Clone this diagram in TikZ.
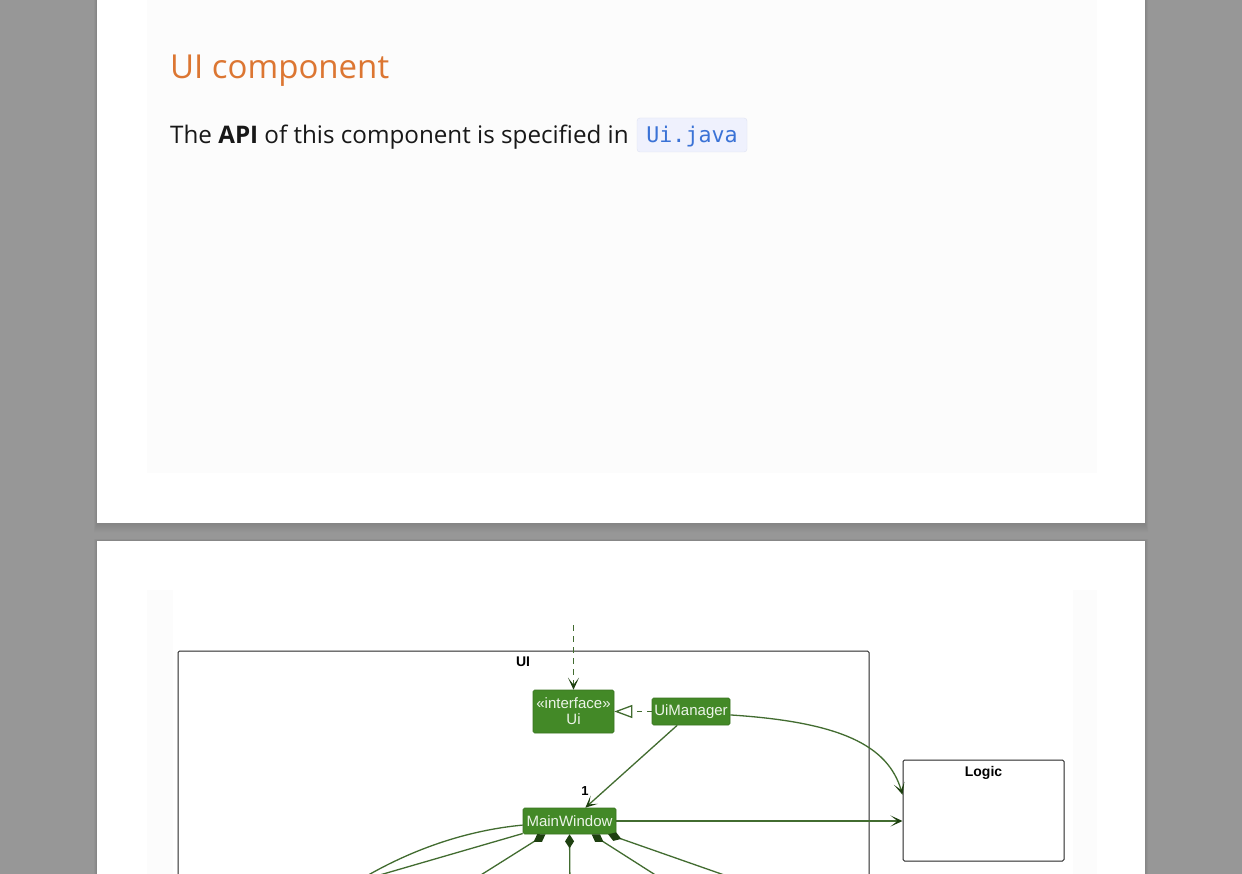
\documentclass[tikz,border=0pt]{standalone}
\usepackage{fontspec}
\setmainfont{Open Sans}
\setmonofont{DejaVu Sans Mono}
\newfontfamily\umlfont{Liberation Sans}
\usepackage{tikz}
\usetikzlibrary{arrows.meta, positioning}
\definecolor{viewerbg}{RGB}{151,151,151}
\definecolor{pageoff}{RGB}{252,252,252}
\definecolor{headorange}{RGB}{220,118,50}
\definecolor{bodyblack}{RGB}{24,24,24}
\definecolor{codebg}{RGB}{239,241,253}
\definecolor{codeline}{RGB}{222,226,242}
\definecolor{codeblue}{RGB}{58,114,214}
\definecolor{umlgreen}{RGB}{67,137,39}
\definecolor{umltext}{RGB}{236,244,232}
\definecolor{umlline}{RGB}{66,108,48}
\definecolor{umldark}{RGB}{30,64,16}
\tikzstyle{codebox} = [fill=codebg, draw=codeline, rounded corners=3pt,
    minimum width=110, minimum height=34, inner sep=0pt, text=codeblue,
    font=\ttfamily\fontsize{21.6}{24}\selectfont, text height=20pt, text depth=4pt]
\tikzstyle{cls} = [draw=umlgreen!85!black, fill=umlgreen, rounded corners=1.5pt,
    text=umltext, font=\umlfont\fontsize{15}{16}\selectfont, inner sep=0pt,
    align=center, line width=0.6pt]
\tikzstyle{pkg} = [draw=black!85, line width=1pt, rounded corners=1.5pt, inner sep=0pt]
\tikzstyle{pkgname} = [font=\umlfont\bfseries\fontsize{14}{16}\selectfont, inner sep=0pt]
\tikzstyle{assoc} = [umlline, line width=1.3pt]
\tikzstyle{arr} = [assoc, -{Stealth[length=12pt, width=11pt, inset=7pt, color=umldark]}]
\tikzstyle{real} = [assoc, dash pattern=on 5pt off 5pt,
    -{Triangle[open, length=18pt, width=13pt, fill=white]}]
\tikzstyle{comp} = [assoc, {Diamond[length=14pt, width=9pt, color=umldark]}-]

\begin{document}
\begin{tikzpicture}[x=1pt, y=-1pt]
  \useasboundingbox (0,0) rectangle (1242,874);
  \clip (0,0) rectangle (1242,874);

  % viewer and pages
  \fill[viewerbg] (0,0) rectangle (1242,874);
  \foreach \i in {1,...,6}
    \fill[black, opacity=0.018] (97-\i/2,-20) rectangle (1145+\i/2,523+1.5*\i)
                                (97-\i/2,541-\i/3) rectangle (1145+\i/2,900);
  \fill[white] (97,-5) rectangle (1145,523);
  \fill[pageoff] (147,-5) rectangle (1097,473);
  \fill[white] (97,541) rectangle (1145,900);
  \fill[pageoff] (147,590) rectangle (1097,900);
  \fill[white] (173,590) rectangle (1073,900);

  % Page text
  \node[anchor=base west, inner sep=0pt, text=headorange,
        font=\fontsize{33}{40}\selectfont] (title) at (170,79) {UI component};
  \node[anchor=base west, inner sep=0pt, text=bodyblack,
        font=\fontsize{24.2}{29}\selectfont] (intro) at (170,143.5)
        {The \textbf{API} of this component is specified in};
  \node[codebox] (code) at (692,135) {Ui.java};

  % Packages
  \draw[pkg] (178,651) rectangle (869,900);
  \node[pkgname] (uiname) at (523,662) {UI};
  \node[pkg, minimum width=161, minimum height=101] (logic) at (983.5,810.5) {};
  \node[pkgname, below=7pt of logic.north] (logicname) {Logic};

  % Classes
  \node[cls, minimum width=81, minimum height=43] (ui) at (573.5,711.5) {«interface»\\Ui};
  \node[cls, minimum width=78, minimum height=27] (uimgr) at (691,711.5) {UiManager};
  \node[cls, minimum width=93, minimum height=26] (mainwin) at (569.5,821) {MainWindow};

  % Connectors
  \coordinate (apiuser) at (573.5,625);
  \draw[arr, dash pattern=on 6pt off 5pt] (apiuser) -- (ui);
  \draw[real] (uimgr) -- (ui);
  \draw[arr] (uimgr.225) -- (mainwin.40);
  \node[pkgname, font=\umlfont\bfseries\fontsize{13}{14}\selectfont] (one) at (585,791) {1};
  \draw[arr] (uimgr.355) .. controls (840,722) and (888,745) .. (logic.169);
  \draw[arr] (mainwin.east) -- (mainwin.east -| logic.west);

  % MainWindow parts (cut off at page edge)
  \coordinate (p1) at (350,886);
  \coordinate (p2) at (328,890);
  \coordinate (p3) at (457,890);
  \coordinate (p4) at (570,890);
  \coordinate (p5) at (679,890);
  \coordinate (p6) at (767,890);
  \draw[assoc] (mainwin.185) .. controls (470,830) and (410,848) .. (p1);
  \draw[assoc] (mainwin.195) -- (p2);
  \draw[comp] (mainwin.209) -- (p3);
  \draw[comp] (mainwin.south) -- (p4);
  \draw[comp] (mainwin.329) -- (p5);
  \draw[comp] (mainwin.341) -- (p6);
\end{tikzpicture}
\end{document}
